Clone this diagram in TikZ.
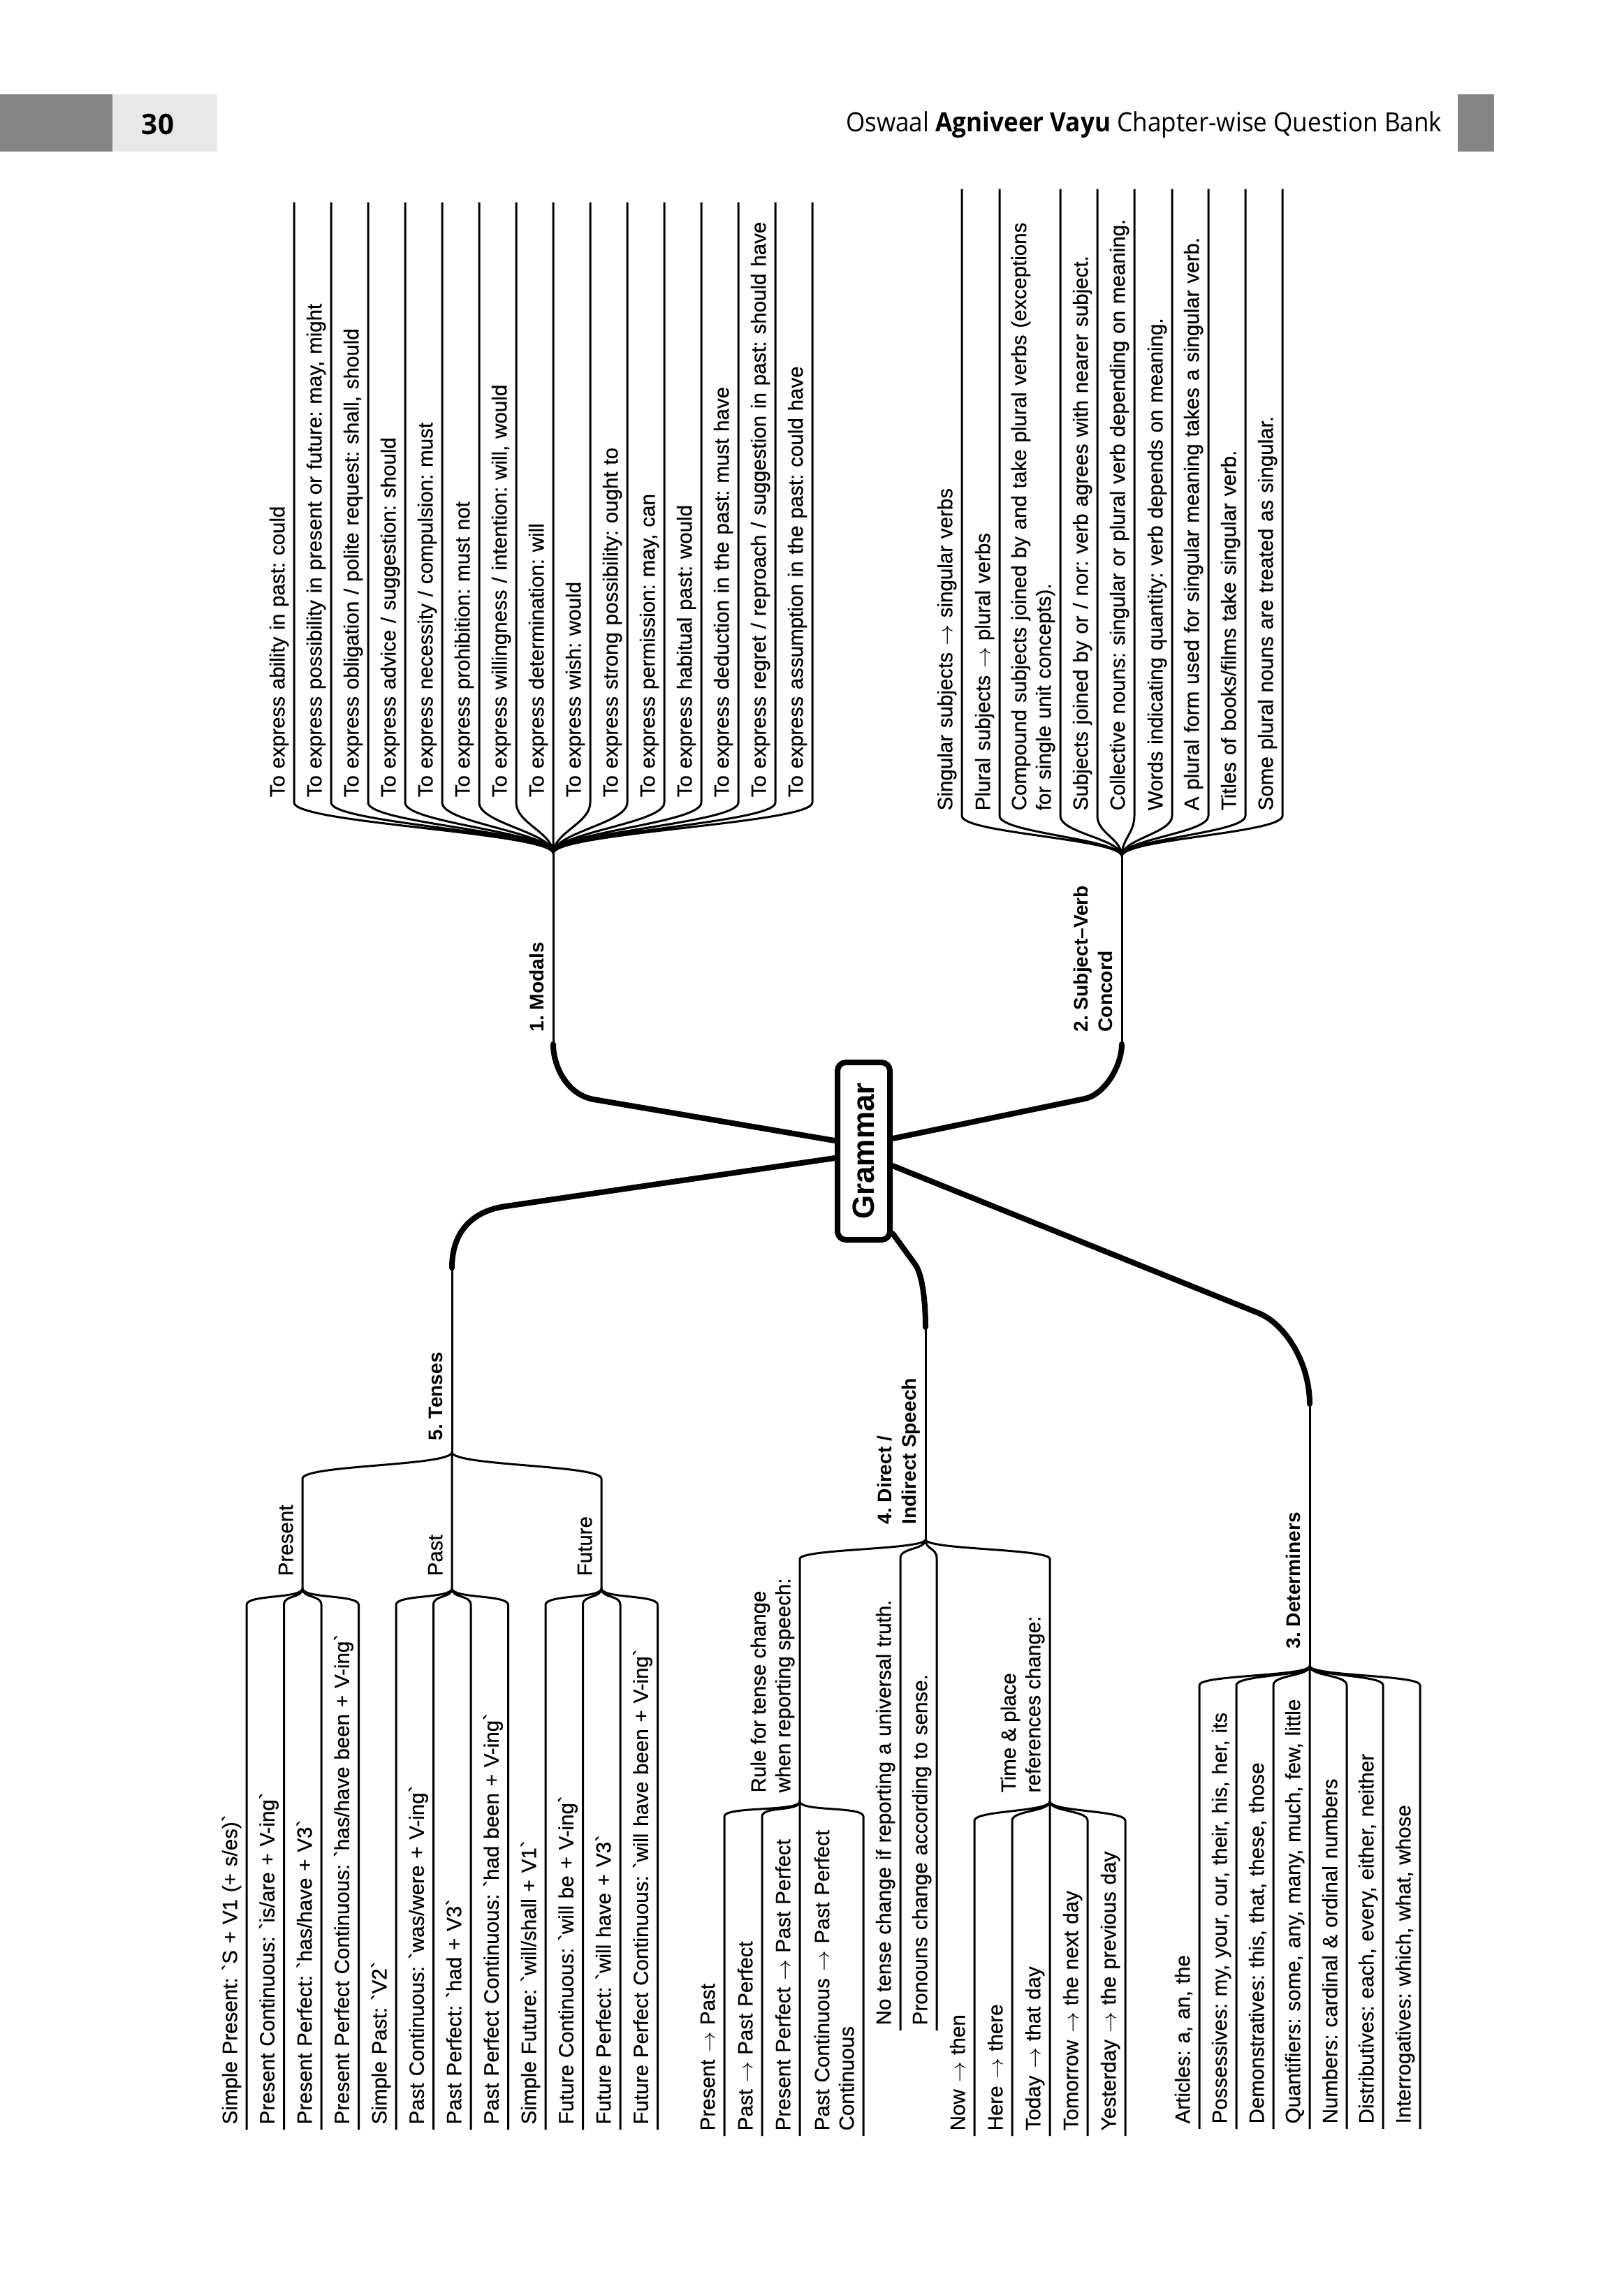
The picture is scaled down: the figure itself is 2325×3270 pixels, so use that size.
\documentclass[tikz,border=0pt]{standalone}
\usepackage{fontspec}
\usepackage{graphicx}
\setmainfont{Liberation Sans}
\newfontfamily\leafface{Liberation Sans}[FakeBold=0.5]
\newfontfamily\headfont{Open Sans}
\frenchspacing
\definecolor{pagegrey}{HTML}{858585}
\definecolor{tabgrey}{HTML}{E8E8E8}
\newcommand{\bq}{\textasciigrave}
\newcommand{\ra}{$\rightarrow$}
\newcommand{\leaffont}{\leafface\fontsize{8.4}{10}\selectfont}
\newcommand{\topicfont}{\fontsize{8}{10}\selectfont\bfseries}
\tikzset{
  leaf/.style={rotate=90, anchor=south west, inner xsep=0.7mm, inner ysep=0.25mm,
               align=left, font=\leaffont, execute at end node=\strut},
  topic/.style={leaf, font=\topicfont},
  modal/.style={leaf, text width=84.4mm},
  concord/.style={leaf, text width=88.2mm},
  tense/.style={leaf, text width=73.6mm},
  speech/.style={leaf, text width=66.1mm},
  reported/.style={leaf, text width=44.2mm},
  timeref/.style={leaf, text width=43.6mm},
  determ/.style={leaf, text width=62mm},
  trunk/.style={line width=0.8mm, line cap=round},
  twig/.style={line width=0.3mm},
  rise/.style={out=90, in=-90, distance=#1},
  fall/.style={out=-90, in=90, distance=#1},
}
\begin{document}
\begin{tikzpicture}[x=0.1mm, y=-0.1mm]
  \useasboundingbox (0,0) rectangle (2325,3270);
  % page header
  \fill[pagegrey] (0,135) rectangle (161,217);
  \fill[tabgrey] (161,135) rectangle (311,217);
  \fill[pagegrey] (2087,135) rectangle (2139,217);
  \node[inner sep=0, font=\headfont\bfseries\fontsize{11.5}{12}\selectfont] (pgno) at (226,178) {30};
  \node[anchor=base east, inner sep=0, font=\headfont\fontsize{10.8}{12}\selectfont] (title) at (2065,188)
    {\scalebox{0.925}[1]{Oswaal \textbf{Agniveer Vayu} Chapter-wise Question Bank}};

  % centre
  \node[draw, line width=0.8mm, rounded corners=1.2mm, minimum width=7.5mm, minimum height=25.4mm,
        inner sep=0, font=\fontsize{12.5}{14}\selectfont\bfseries] (gram) at (1236.5,1648) {\rotatebox{90}{Grammar}};

  % junctions and bends
  \coordinate (mj) at (792,1222);
  \coordinate (mdb) at (850,1574);
  \coordinate (md0) at (792,1495);
  \coordinate (sj) at (1606,1226);
  \coordinate (svb) at (1553,1573);
  \coordinate (sv0) at (1606,1495);
  \coordinate (tj) at (647,2079);
  \coordinate (tnb) at (724,1727);
  \coordinate (tn0) at (647,1815);
  \coordinate (prt) at (433,2117);
  \coordinate (prj) at (433,2274);
  \coordinate (pastj) at (647,2274);
  \coordinate (fut) at (861,2117);
  \coordinate (futj) at (861,2274);
  \coordinate (dj) at (1325,2204);
  \coordinate (dsb) at (1310,1810);
  \coordinate (ds0) at (1325,1900);
  \coordinate (rlt) at (1145,2232);
  \coordinate (rlj) at (1145,2579);
  \coordinate (tpt) at (1503,2232);
  \coordinate (tpj) at (1503,2579);
  \coordinate (dtj) at (1875,2385);
  \coordinate (dtb) at (1802,1880);
  \coordinate (dt0) at (1875,2010);

  % topic labels
  \node[topic] (modals) at (792,1485) {1. Modals};
  \node[topic] (svc) at (1606,1485) {2. Subject--Verb\\Concord};
  \node[topic] (dets) at (1875,2368) {3. Determiners};
  \node[topic] (dirs) at (1325,2190) {4. Direct /\\Indirect Speech};
  \node[topic] (tens) at (647,2070) {5. Tenses};
  \node[leaf] (pres) at (433,2264) {Present};
  \node[leaf] (past) at (647,2264) {Past};
  \node[leaf] (futr) at (861,2264) {Future};
  \node[leaf] (rule) at (1145,2574) {Rule for tense change\\when reporting speech:};
  \node[leaf] (tpl) at (1503,2574) {Time \& place\\references change:};

  % 1. Modals
  \node[modal] (m1) at (421,1149) {To express ability in past: could};
  \node[modal] (m2) at (474,1149) {To express possibility in present or future: may, might};
  \node[modal] (m3) at (527,1149) {To express obligation / polite request: shall, should};
  \node[modal] (m4) at (580,1149) {To express advice / suggestion: should};
  \node[modal] (m5) at (633,1149) {To express necessity / compulsion: must};
  \node[modal] (m6) at (686,1149) {To express prohibition: must not};
  \node[modal] (m7) at (739,1149) {To express willingness / intention: will, would};
  \node[modal] (m8) at (792,1149) {To express determination: will};
  \node[modal] (m9) at (845,1149) {To express wish: would};
  \node[modal] (m10) at (898,1149) {To express strong possibility: ought to};
  \node[modal] (m11) at (951,1149) {To express permission: may, can};
  \node[modal] (m12) at (1004,1149) {To express habitual past: would};
  \node[modal] (m13) at (1057,1149) {To express deduction in the past: must have};
  \node[modal] (m14) at (1110,1149) {To express regret / reproach / suggestion in past: should have};
  \node[modal] (m15) at (1163,1149) {To express assumption in the past: could have};

  % 2. Subject-Verb Concord
  \node[concord] (s1) at (1377,1168) {Singular subjects \ra{} singular verbs};
  \node[concord] (s2) at (1431,1168) {Plural subjects \ra{} plural verbs};
  \node[concord] (s3) at (1518,1168) {Compound subjects joined by and take plural verbs (exceptions\\for single unit concepts).};
  \node[concord] (s4) at (1571,1168) {Subjects joined by or / nor: verb agrees with nearer subject.};
  \node[concord] (s5) at (1624,1168) {Collective nouns: singular or plural verb depending on meaning.};
  \node[concord] (s6) at (1678,1168) {Words indicating quantity: verb depends on meaning.};
  \node[concord] (s7) at (1730,1168) {A plural form used for singular meaning takes a singular verb.};
  \node[concord] (s8) at (1783,1168) {Titles of books/films take singular verb.};
  \node[concord] (s9) at (1836,1168) {Some plural nouns are treated as singular.};

  % 5. Tenses
  \node[tense] (t1) at (353,3049) {Simple Present: \bq S + V1 (+ s/es)\bq};
  \node[tense] (t2) at (406.5,3049) {Present Continuous: \bq is/are + V-ing\bq};
  \node[tense] (t3) at (460,3049) {Present Perfect: \bq has/have + V3\bq};
  \node[tense] (t4) at (513.5,3049) {Present Perfect Continuous: \bq has/have been + V-ing\bq};
  \node[tense] (t5) at (567,3049) {Simple Past: \bq V2\bq};
  \node[tense] (t6) at (620.5,3049) {Past Continuous: \bq was/were + V-ing\bq};
  \node[tense] (t7) at (674,3049) {Past Perfect: \bq had + V3\bq};
  \node[tense] (t8) at (727.5,3049) {Past Perfect Continuous: \bq had been + V-ing\bq};
  \node[tense] (t9) at (781,3049) {Simple Future: \bq will/shall + V1\bq};
  \node[tense] (t10) at (834.5,3049) {Future Continuous: \bq will be + V-ing\bq};
  \node[tense] (t11) at (888,3049) {Future Perfect: \bq will have + V3\bq};
  \node[tense] (t12) at (941.5,3049) {Future Perfect Continuous: \bq will have been + V-ing\bq};

  % 4. Direct / Indirect Speech
  \node[reported] (r1) at (1037,3058) {Present \ra{} Past};
  \node[reported] (r2) at (1091,3058) {Past \ra{} Past Perfect};
  \node[reported] (r3) at (1145,3058) {Present Perfect \ra{} Past Perfect};
  \node[reported] (r4) at (1236,3058) {Past Continuous \ra{} Past Perfect\\Continuous};
  \node[speech] (d1) at (1289,2907) {No tense change if reporting a universal truth.};
  \node[speech] (d2) at (1341,2907) {Pronouns change according to sense.};
  \node[timeref] (p1) at (1395,3058) {Now \ra{} then};
  \node[timeref] (p2) at (1449,3058) {Here \ra{} there};
  \node[timeref] (p3) at (1503,3058) {Today \ra{} that day};
  \node[timeref] (p4) at (1557,3058) {Tomorrow \ra{} the next day};
  \node[timeref] (p5) at (1611,3058) {Yesterday \ra{} the previous day};

  % 3. Determiners
  \node[determ] (e1) at (1717,3048) {Articles: a, an, the};
  \node[determ] (e2) at (1770,3048) {Possessives: my, your, our, their, his, her, its};
  \node[determ] (e3) at (1823,3048) {Demonstratives: this, that, these, those};
  \node[determ] (e4) at (1875,3048) {Quantifiers: some, any, many, much, few, little};
  \node[determ] (e5) at (1928,3048) {Numbers: cardinal \& ordinal numbers};
  \node[determ] (e6) at (1980,3048) {Distributives: each, every, either, neither};
  \node[determ] (e7) at (2033,3048) {Interrogatives: which, what, whose};

  % main branches
  \draw[trunk] ([yshift=1.5mm]gram.west) -- (mdb) to[out=170, in=-90, out distance=4mm, in distance=3mm] (md0);
  \draw[trunk] ([yshift=1.8mm]gram.east) -- (svb) to[out=12, in=-90, out distance=3mm, in distance=3mm] (sv0);
  \draw[trunk] ([yshift=-1mm]gram.west) -- (tnb) to[out=188, in=90, out distance=5mm, in distance=5mm] (tn0);
  \draw[trunk] ([yshift=-11.8mm]gram.east) -- (dsb) to[out=-54, in=90, out distance=2mm, in distance=3mm] (ds0);
  \draw[trunk] ([yshift=-2.1mm]gram.east) -- (dtb) to[out=-22, in=90, out distance=4mm, in distance=6mm] (dt0);
  \draw[twig] (md0) -- (mj) (sv0) -- (sj) (tn0) -- (tj) (ds0) -- (dj) (dt0) -- (dtj);

  % modals twigs
  \draw[twig]
    (mj) to[rise=3mm] (m1.south west) -- (m1.south east)
    (mj) to[rise=3mm] (m2.south west) -- (m2.south east)
    (mj) to[rise=3mm] (m3.south west) -- (m3.south east)
    (mj) to[rise=3mm] (m4.south west) -- (m4.south east)
    (mj) to[rise=3mm] (m5.south west) -- (m5.south east)
    (mj) to[rise=3mm] (m6.south west) -- (m6.south east)
    (mj) to[rise=3mm] (m7.south west) -- (m7.south east)
    (mj) to[rise=3mm] (m8.south west) -- (m8.south east)
    (mj) to[rise=3mm] (m9.south west) -- (m9.south east)
    (mj) to[rise=3mm] (m10.south west) -- (m10.south east)
    (mj) to[rise=3mm] (m11.south west) -- (m11.south east)
    (mj) to[rise=3mm] (m12.south west) -- (m12.south east)
    (mj) to[rise=3mm] (m13.south west) -- (m13.south east)
    (mj) to[rise=3mm] (m14.south west) -- (m14.south east)
    (mj) to[rise=3mm] (m15.south west) -- (m15.south east);

  % concord twigs
  \draw[twig]
    (sj) to[rise=2.5mm] (s1.south west) -- (s1.south east)
    (sj) to[rise=2.5mm] (s2.south west) -- (s2.south east)
    (sj) to[rise=2.5mm] (s3.south west) -- (s3.south east)
    (sj) to[rise=2.5mm] (s4.south west) -- (s4.south east)
    (sj) to[rise=2.5mm] (s5.south west) -- (s5.south east)
    (sj) to[rise=2.5mm] (s6.south west) -- (s6.south east)
    (sj) to[rise=2.5mm] (s7.south west) -- (s7.south east)
    (sj) to[rise=2.5mm] (s8.south west) -- (s8.south east)
    (sj) to[rise=2.5mm] (s9.south west) -- (s9.south east);

  % tenses twigs
  \draw[twig]
    (tj) to[fall=2mm] (prt) -- (prj)
    (tj) -- (pastj)
    (tj) to[fall=2mm] (fut) -- (futj);
  \draw[twig]
    (prj) to[fall=1.5mm] (t1.south east) -- (t1.south west)
    (prj) to[fall=1.5mm] (t2.south east) -- (t2.south west)
    (prj) to[fall=1.5mm] (t3.south east) -- (t3.south west)
    (prj) to[fall=1.5mm] (t4.south east) -- (t4.south west)
    (pastj) to[fall=1.5mm] (t5.south east) -- (t5.south west)
    (pastj) to[fall=1.5mm] (t6.south east) -- (t6.south west)
    (pastj) to[fall=1.5mm] (t7.south east) -- (t7.south west)
    (pastj) to[fall=1.5mm] (t8.south east) -- (t8.south west)
    (futj) to[fall=1.5mm] (t9.south east) -- (t9.south west)
    (futj) to[fall=1.5mm] (t10.south east) -- (t10.south west)
    (futj) to[fall=1.5mm] (t11.south east) -- (t11.south west)
    (futj) to[fall=1.5mm] (t12.south east) -- (t12.south west);

  % speech twigs
  \draw[twig]
    (dj) to[fall=1.5mm] (rlt) -- (rlj)
    (dj) to[fall=1.5mm] (d1.south east) -- (d1.south west)
    (dj) to[fall=1.5mm] (d2.south east) -- (d2.south west)
    (dj) to[fall=1.5mm] (tpt) -- (tpj);
  \draw[twig]
    (rlj) to[fall=1.5mm] (r1.south east) -- (r1.south west)
    (rlj) to[fall=1.5mm] (r2.south east) -- (r2.south west)
    (rlj) to[fall=1.5mm] (r3.south east) -- (r3.south west)
    (rlj) to[fall=1.5mm] (r4.south east) -- (r4.south west)
    (tpj) to[fall=1.5mm] (p1.south east) -- (p1.south west)
    (tpj) to[fall=1.5mm] (p2.south east) -- (p2.south west)
    (tpj) to[fall=1.5mm] (p3.south east) -- (p3.south west)
    (tpj) to[fall=1.5mm] (p4.south east) -- (p4.south west)
    (tpj) to[fall=1.5mm] (p5.south east) -- (p5.south west);

  % determiners twigs
  \draw[twig]
    (dtj) to[fall=1.5mm] (e1.south east) -- (e1.south west)
    (dtj) to[fall=1.5mm] (e2.south east) -- (e2.south west)
    (dtj) to[fall=1.5mm] (e3.south east) -- (e3.south west)
    (dtj) to[fall=1.5mm] (e4.south east) -- (e4.south west)
    (dtj) to[fall=1.5mm] (e5.south east) -- (e5.south west)
    (dtj) to[fall=1.5mm] (e6.south east) -- (e6.south west)
    (dtj) to[fall=1.5mm] (e7.south east) -- (e7.south west);
\end{tikzpicture}
\end{document}
